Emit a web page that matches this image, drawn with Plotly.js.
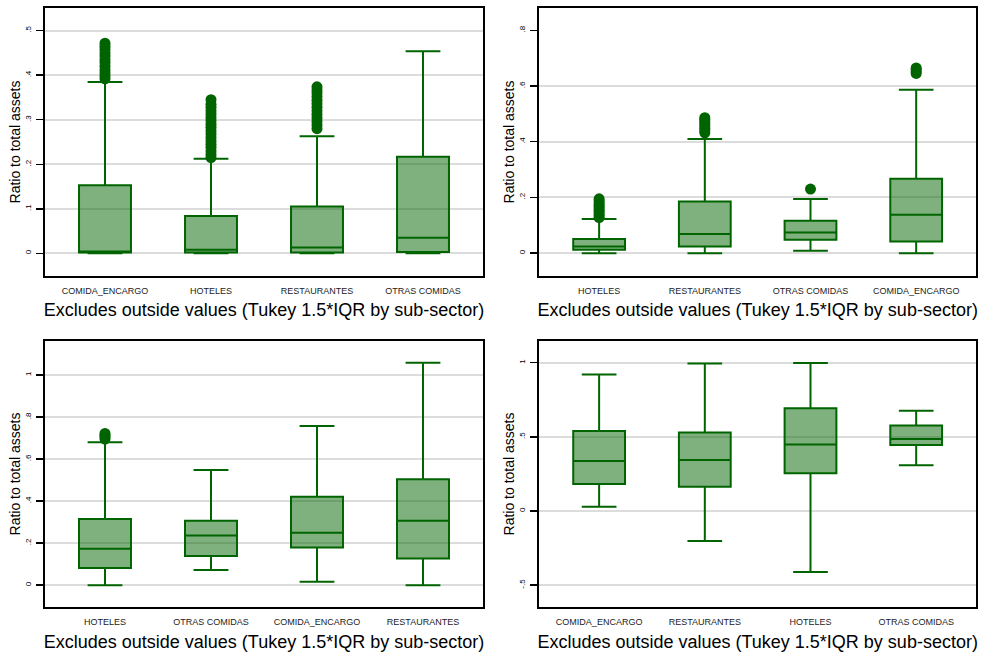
<!DOCTYPE html>
<html>
<head>
<meta charset="utf-8">
<script src="https://cdn.plot.ly/plotly-3.0.1.min.js"></script>
<style>html,body{margin:0;padding:0;background:#fff;}#chart{width:986px;height:655px;}</style>
</head>
<body>
<div id="chart"></div>
<script>
// ---- Panel 1 (top-left) ----
const cats1 = ['COMIDA_ENCARGO', 'HOTELES', 'RESTAURANTES', 'OTRAS COMIDAS'];
const q1_1 = [0.002, 0.002, 0.002, 0.003];
const med_1 = [0.002, 0.008, 0.013, 0.035];
const q3_1 = [0.153, 0.084, 0.105, 0.217];
const lo_1 = [0.0, 0.0, 0.0, 0.0];
const hi_1 = [0.385, 0.2125, 0.263, 0.454];
const out1_comida = [0.392, 0.398, 0.405, 0.412, 0.42, 0.428, 0.435, 0.443, 0.45, 0.458, 0.465, 0.472];
const out1_hoteles = [0.215, 0.222, 0.23, 0.238, 0.245, 0.252, 0.26, 0.268, 0.275, 0.283, 0.29, 0.298, 0.305, 0.313, 0.32, 0.328, 0.335, 0.345];
const out1_rest = [0.28, 0.288, 0.296, 0.304, 0.312, 0.32, 0.328, 0.336, 0.344, 0.352, 0.36, 0.367, 0.374];

// ---- Panel 2 (top-right) ----
const cats2 = ['HOTELES', 'RESTAURANTES', 'OTRAS COMIDAS', 'COMIDA_ENCARGO'];
const q1_2 = [0.012, 0.024, 0.048, 0.042];
const med_2 = [0.024, 0.069, 0.074, 0.138];
const q3_2 = [0.051, 0.185, 0.116, 0.267];
const lo_2 = [0.0, 0.0, 0.009, 0.0];
const hi_2 = [0.123, 0.41, 0.194, 0.587];
const out2_hoteles = [0.128, 0.135, 0.142, 0.15, 0.157, 0.165, 0.172, 0.18, 0.188, 0.195];
const out2_rest = [0.432, 0.44, 0.448, 0.456, 0.464, 0.472, 0.48, 0.486];
const out2_otras = [0.23];
const out2_comida = [0.645, 0.652, 0.66, 0.665];

// ---- Panel 3 (bottom-left) ----
const cats3 = ['HOTELES', 'OTRAS COMIDAS', 'COMIDA_ENCARGO', 'RESTAURANTES'];
const q1_3 = [0.082, 0.139, 0.179, 0.127];
const med_3 = [0.173, 0.236, 0.25, 0.307];
const q3_3 = [0.315, 0.307, 0.421, 0.504];
const lo_3 = [0.0, 0.073, 0.016, 0.0];
const hi_3 = [0.68, 0.548, 0.757, 1.058];
const out3_hoteles = [0.695, 0.705, 0.713, 0.722];

// ---- Panel 4 (bottom-right) ----
const cats4 = ['COMIDA_ENCARGO', 'RESTAURANTES', 'HOTELES', 'OTRAS COMIDAS'];
const q1_4 = [0.182, 0.164, 0.254, 0.445];
const med_4 = [0.337, 0.344, 0.449, 0.485];
const q3_4 = [0.539, 0.530, 0.692, 0.577];
const lo_4 = [0.029, -0.202, -0.411, 0.308];
const hi_4 = [0.921, 0.995, 0.997, 0.676];

// tick labels
const yt1 = [0, 0.1, 0.2, 0.3, 0.4, 0.5], ytt1 = ['0', '.1', '.2', '.3', '.4', '.5'];
const yt2 = [0, 0.2, 0.4, 0.6, 0.8], ytt2 = ['0', '.2', '.4', '.6', '.8'];
const yt2grid = [0, 0.2, 0.4, 0.6];
const yt3 = [0, 0.2, 0.4, 0.6, 0.8, 1], ytt3 = ['0', '.2', '.4', '.6', '.8', '1'];
const yt4 = [-0.5, 0, 0.5, 1], ytt4 = ['-.5', '0', '.5', '1'];

const xTitle = 'Excludes outside values (Tukey 1.5*IQR by sub-sector)';
const yTitle = 'Ratio to total assets';

const GREEN = '#006400';
const FILL = 'rgba(0,100,0,0.5)';
const FONT = 'Liberation Sans, Arial, Helvetica, sans-serif';

function boxTrace(cats, q1, med, q3, lo, hi, xa, ya) {
  return {
    type: 'box', x: cats, q1: q1, median: med, q3: q3,
    lowerfence: lo, upperfence: hi, boxpoints: false,
    fillcolor: FILL, line: {color: GREEN, width: 2},
    width: 0.49, whiskerwidth: 0.67,
    xaxis: xa, yaxis: ya, showlegend: false, hoverinfo: 'skip'
  };
}
function outTrace(groups, xa, ya) {
  const xs = [], ys = [];
  groups.forEach(g => g.vals.forEach(v => { xs.push(g.cat); ys.push(v); }));
  return {
    type: 'scatter', mode: 'markers', x: xs, y: ys,
    marker: {color: GREEN, size: 11, line: {width: 0}},
    xaxis: xa, yaxis: ya, showlegend: false, hoverinfo: 'skip'
  };
}

const data = [
  // invisible carrier for the panel-2 grid axis
  {type: 'scatter', mode: 'markers', x: [cats2[0]], y: [0], marker: {opacity: 0}, xaxis: 'x2', yaxis: 'y5', showlegend: false, hoverinfo: 'skip'},
  boxTrace(cats1, q1_1, med_1, q3_1, lo_1, hi_1, 'x', 'y'),
  outTrace([{cat: cats1[0], vals: out1_comida}, {cat: cats1[1], vals: out1_hoteles}, {cat: cats1[2], vals: out1_rest}], 'x', 'y'),
  boxTrace(cats2, q1_2, med_2, q3_2, lo_2, hi_2, 'x2', 'y2'),
  outTrace([{cat: cats2[0], vals: out2_hoteles}, {cat: cats2[1], vals: out2_rest}, {cat: cats2[2], vals: out2_otras}, {cat: cats2[3], vals: out2_comida}], 'x2', 'y2'),
  boxTrace(cats3, q1_3, med_3, q3_3, lo_3, hi_3, 'x3', 'y3'),
  outTrace([{cat: cats3[0], vals: out3_hoteles}], 'x3', 'y3'),
  boxTrace(cats4, q1_4, med_4, q3_4, lo_4, hi_4, 'x4', 'y4')
];

function xAxis(cats, domain) {
  return {
    domain: domain, type: 'category', categoryorder: 'array', categoryarray: cats,
    range: [-0.566, 3.566], showgrid: false, zeroline: false,
    showline: true, mirror: true, linecolor: '#000', linewidth: 2,
    ticks: '', ticklabelstandoff: 5,
    tickfont: {family: FONT, size: 9, color: '#222'},
    title: {text: xTitle, font: {family: FONT, size: 18, color: '#000'}, standoff: 9},
    fixedrange: true
  };
}
function yAxis(tv, tt, range, domain) {
  return {
    domain: domain, range: range, tickvals: tv, ticktext: tt,
    showgrid: true, gridcolor: '#dcdcdc', gridwidth: 2, zeroline: false,
    showline: true, mirror: true, linecolor: '#000', linewidth: 2,
    ticks: 'outside', ticklen: 7, tickwidth: 1.5, tickcolor: '#000',
    tickangle: -90, tickfont: {family: FONT, size: 8, color: '#000'},
    ticklabelstandoff: 2,
    title: {text: yTitle, font: {family: FONT, size: 14, color: '#000'}, standoff: 0},
    fixedrange: true
  };
}

const dxL = [45 / 986, 483 / 986];
const dxR = [539.3 / 986, 976 / 986];
const dyT = [1 - 276 / 655, 1 - 8 / 655];
const dyB = [1 - 607.3 / 655, 1 - 340.7 / 655];

const y2range = [-0.082, 0.88];

const layout = {
  width: 986, height: 655,
  margin: {l: 0, r: 0, t: 0, b: 0},
  paper_bgcolor: '#fff', plot_bgcolor: '#fff',
  showlegend: false,
  xaxis: Object.assign(xAxis(cats1, dxL), {anchor: 'y'}),
  yaxis: Object.assign(yAxis(yt1, ytt1, [-0.051, 0.551], dyT), {anchor: 'x'}),
  xaxis2: Object.assign(xAxis(cats2, dxR), {anchor: 'y2'}),
  yaxis2: Object.assign(yAxis(yt2, ytt2, y2range, dyT), {anchor: 'x2', showgrid: false}),
  yaxis5: {overlaying: 'y2', anchor: 'x2', side: 'left', range: y2range, tickvals: yt2grid,
           showgrid: true, gridcolor: '#dcdcdc', gridwidth: 2, zeroline: false,
           showline: false, ticks: '', showticklabels: false, fixedrange: true},
  xaxis3: Object.assign(xAxis(cats3, dxL), {anchor: 'y3'}),
  yaxis3: Object.assign(yAxis(yt3, ytt3, [-0.105, 1.163], dyB), {anchor: 'x3'}),
  xaxis4: Object.assign(xAxis(cats4, dxR), {anchor: 'y4'}),
  yaxis4: Object.assign(yAxis(yt4, ytt4, [-0.649, 1.148], dyB), {anchor: 'x4'})
};

Plotly.newPlot('chart', data, layout, {displayModeBar: false, staticPlot: true});
</script>
</body>
</html>
